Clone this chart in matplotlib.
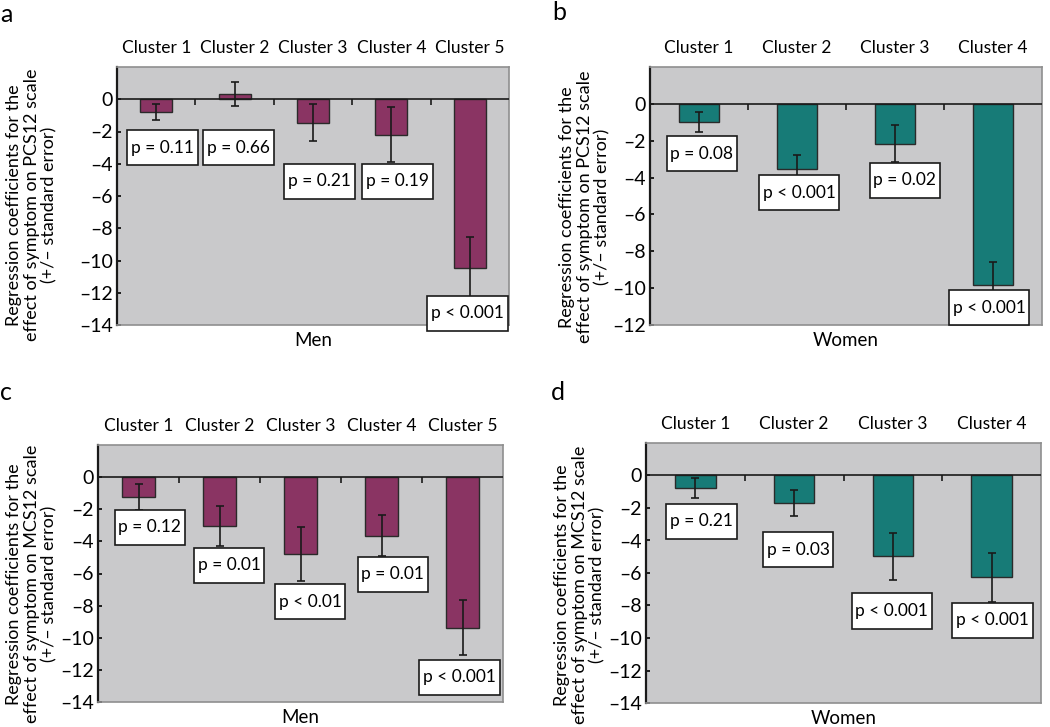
import matplotlib
matplotlib.use("Agg")
import matplotlib.pyplot as plt
from matplotlib.path import Path
import numpy as np

plt.rcParams['font.family'] = ['Lato', 'DejaVu Sans']

W, H = 1050, 727

men_clusters = ['Cluster 1', 'Cluster 2', 'Cluster 3', 'Cluster 4', 'Cluster 5']
women_clusters = ['Cluster 1', 'Cluster 2', 'Cluster 3', 'Cluster 4']

# panel a: men, PCS12
a_vals = [-0.8, 0.3, -1.45, -2.2, -10.45]
a_err = [0.48, 0.74, 1.15, 1.7, 1.88]
a_p = ['p = 0.11', 'p = 0.66', 'p = 0.21', 'p = 0.19', 'p < 0.001']
a_lab_x = [0.08, 0.05, 0.08, 0.08, -0.03]
a_lab_y = [-3.0, -3.0, -5.1, -5.1, -13.27]

# panel b: women, PCS12
b_vals = [-0.98, -3.55, -2.17, -9.81]
b_err = [0.53, 0.8, 1.0, 1.25]
b_p = ['p = 0.08', 'p < 0.001', 'p = 0.02', 'p < 0.001']
b_lab_x = [0.03, 0.02, 0.10, -0.04]
b_lab_y = [-2.7, -4.83, -4.15, -11.07]

# panel c: men, MCS12
c_vals = [-1.25, -3.03, -4.78, -3.64, -9.37]
c_err = [0.81, 1.25, 1.68, 1.3, 1.72]
c_p = ['p = 0.12', 'p = 0.01', 'p < 0.01', 'p = 0.01', 'p < 0.001']
c_lab_x = [0.14, 0.12, 0.12, 0.14, -0.04]
c_lab_y = [-3.13, -5.5, -7.76, -6.04, -12.46]

# panel d: women, MCS12
d_vals = [-0.78, -1.7, -4.97, -6.26]
d_err = [0.62, 0.81, 1.44, 1.52]
d_p = ['p = 0.21', 'p = 0.03', 'p < 0.001', 'p < 0.001']
d_lab_x = [0.06, 0.04, -0.01, 0.01]
d_lab_y = [-2.81, -4.58, -8.34, -8.9]

men_col = '#8a3463'
women_col = '#177b77'
bg = '#c9c9cb'
grey_edge = '#8f8f8f'

pcs_label = 'Regression coefficients for the\neffect of symptom on PCS12 scale\n(+/\u2013 standard error)'
mcs_label = 'Regression coefficients for the\neffect of symptom on MCS12 scale\n(+/\u2013 standard error)'


def pbox(x0, y0, width, height, mutation_size):
    # box with less padding left/right than top/bottom
    px = 0.22 * mutation_size
    py = 0.55 * mutation_size
    x0, y0 = x0 - px, y0 - py
    x1, y1 = x0 + width + 2 * px, y0 + height + 2 * py
    return Path([(x0, y0), (x1, y0), (x1, y1), (x0, y1), (x0, y0)], closed=True)


fig = plt.figure(figsize=(10.5, 7.27), dpi=100)


def make_panel(box, cats, vals, errs, pvals, lx, ly, color, ymin, sex,
               ylab, ylab_xy, letter, letter_xy):
    l, t, r, b = box
    ax = fig.add_axes([l / W, 1 - b / H, (r - l) / W, (b - t) / H])
    ax.set_facecolor(bg)
    n = len(cats)
    x = np.arange(n)
    ax.bar(x, vals, width=0.41, color=color, edgecolor='#2a2a2a', linewidth=1.0, zorder=2)
    ax.errorbar(x, vals, yerr=errs, fmt='none', ecolor='#1a1a1a', elinewidth=1.2,
                capsize=3, capthick=1.2, zorder=3)
    ax.axhline(0, color='#1a1a1a', lw=1.2, zorder=4)
    # small ticks between categories on the zero line
    ax.plot(np.arange(n - 1) + 0.5, np.zeros(n - 1), ls='none', marker=3,
            markersize=4, color='#1a1a1a', markeredgewidth=1.2, zorder=4)
    for i in range(n):
        ax.text(i + lx[i], ly[i], pvals[i], ha='center', va='center', fontsize=12.5,
                zorder=5, bbox=dict(boxstyle=pbox, fc='white', ec='#1a1a1a', lw=1.2))
    ax.set_xlim(-0.5, n - 0.5)
    ax.set_ylim(ymin, 2)
    ticks = np.arange(ymin, 1, 2)
    ax.set_yticks(ticks)
    ax.set_yticklabels(['\u2013%d' % -v if v < 0 else '%d' % v for v in ticks])
    ax.tick_params(axis='y', direction='in', length=3, width=1.2, labelsize=14, pad=3)
    ax.xaxis.tick_top()
    ax.set_xticks(x)
    ax.set_xticklabels(cats)
    ax.tick_params(axis='x', length=0, labelsize=12.5, pad=8)
    ax.set_xlabel(sex, fontsize=13.5, labelpad=5)
    ax.xaxis.set_label_position('bottom')
    for s in ['top', 'right', 'bottom']:
        ax.spines[s].set_color(grey_edge)
        ax.spines[s].set_linewidth(1.2)
    ax.spines['left'].set_color('#1a1a1a')
    ax.spines['left'].set_linewidth(1.6)
    fig.text(ylab_xy[0] / W, 1 - ylab_xy[1] / H, ylab, rotation=90, ha='center', va='center',
             multialignment='center', fontsize=13, linespacing=1.12)
    fig.text(letter_xy[0] / W, 1 - letter_xy[1] / H, letter, ha='left', va='center', fontsize=18)
    return ax


make_panel((117, 67, 509, 325), men_clusters, a_vals, a_err, a_p, a_lab_x, a_lab_y,
           men_col, -14, 'Men', pcs_label, (32, 205), 'a', (0, 14))
make_panel((650, 67, 1042, 325), women_clusters, b_vals, b_err, b_p, b_lab_x, b_lab_y,
           women_col, -12, 'Women', pcs_label, (585, 207), 'b', (552, 12))
make_panel((98, 445, 503, 702), men_clusters, c_vals, c_err, c_p, c_lab_x, c_lab_y,
           men_col, -14, 'Men', mcs_label, (32, 584), 'c', (0, 392))
make_panel((646, 443, 1041, 703), women_clusters, d_vals, d_err, d_p, d_lab_x, d_lab_y,
           women_col, -14, 'Women', mcs_label, (580, 585), 'd', (551, 392))

fig.savefig('out.png', dpi=100)
